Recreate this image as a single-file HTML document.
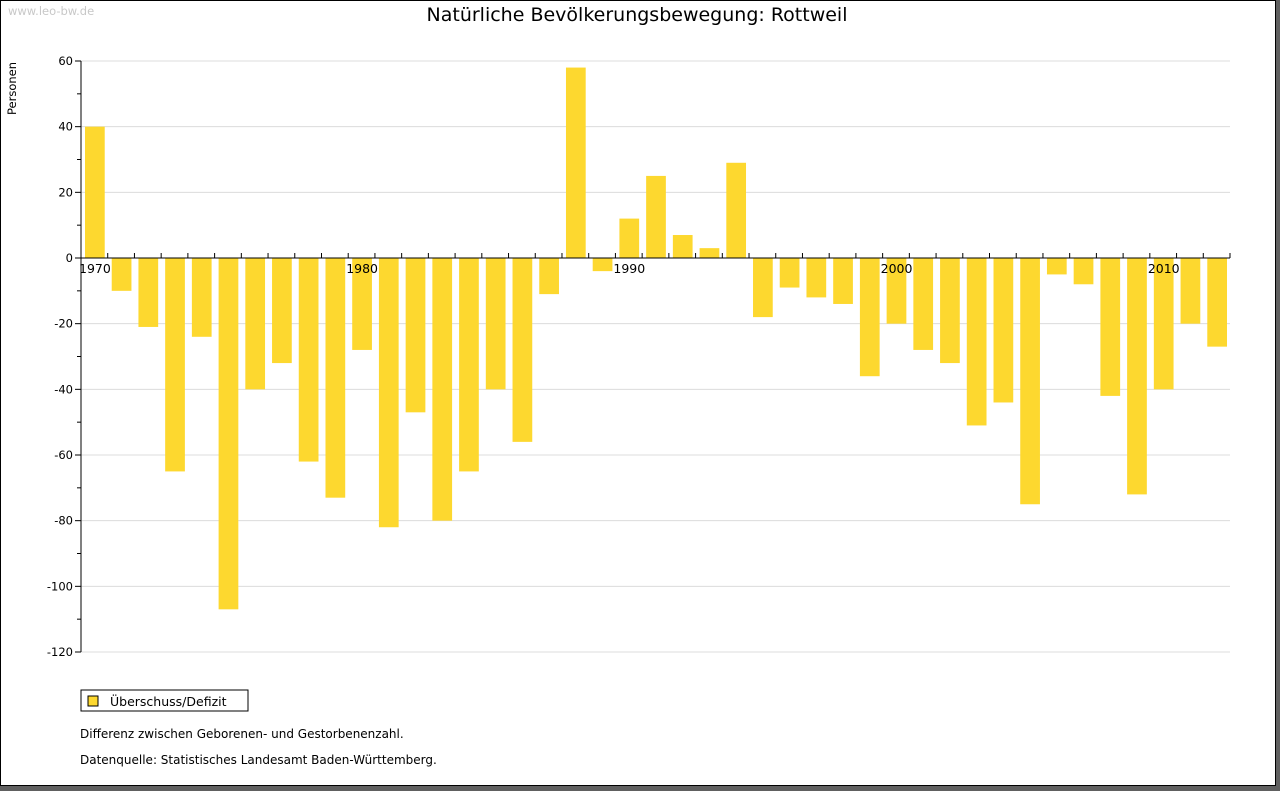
<!DOCTYPE html>
<html><head><meta charset="utf-8"><style>
body{margin:0;width:1280px;height:791px;background:#606060;overflow:hidden;font-family:"DejaVu Sans",sans-serif}
#frame{position:absolute;left:0;top:0;width:1274px;height:784px;background:#fff;border:1px solid #000}
</style></head><body>
<div id="frame"></div>
<svg id="chart" width="1280" height="791" style="position:absolute;left:0;top:0" font-family="DejaVu Sans, sans-serif">
<text x="8" y="15" font-size="11.5" fill="#c8c8c8">www.leo-bw.de</text>
<text x="637" y="21" font-size="19" text-anchor="middle" fill="#000">Natürliche Bevölkerungsbewegung: Rottweil</text>
<text transform="translate(16,115) rotate(-90)" font-size="11.5" fill="#000">Personen</text>
<g id="grid"></g><g id="bars"></g><g id="axes"></g>
<rect x="81" y="690" width="167" height="21" fill="#fff" stroke="#000"/>
<rect x="88" y="696" width="10" height="10" fill="#fdd82f" stroke="#000"/>
<text x="110" y="706" font-size="12.5">Überschuss/Defizit</text>
<text x="80" y="738" font-size="12">Differenz zwischen Geborenen- und Gestorbenenzahl.</text>
<text x="80" y="764" font-size="12">Datenquelle: Statistisches Landesamt Baden-Württemberg.</text>
</svg>
<script>
const years=[1970,1971,1972,1973,1974,1975,1976,1977,1978,1979,1980,1981,1982,1983,1984,1985,1986,1987,1988,1989,1990,1991,1992,1993,1994,1995,1996,1997,1998,1999,2000,2001,2002,2003,2004,2005,2006,2007,2008,2009,2010,2011,2012];
const values=[40,-10,-21,-65,-24,-107,-40,-32,-62,-73,-28,-82,-47,-80,-65,-40,-56,-11,58,-4,12,25,7,3,29,-18,-9,-12,-14,-36,-20,-28,-32,-51,-44,-75,-5,-8,-42,-72,-40,-20,-27];
const yTicks=[60,40,20,0,-20,-40,-60,-80,-100,-120];
const xLabels=[1970,1980,1990,2000,2010];
const NS="http://www.w3.org/2000/svg";
const L=81,R=1230,yMax=60,yMin=-120,T=61,B=652;
const slot=(R-L)/years.length;
const y=v=>T+(yMax-v)*(B-T)/(yMax-yMin);
const x=i=>L+i*slot;
function mk(tag,attrs,parent){const e=document.createElementNS(NS,tag);for(const k in attrs)e.setAttribute(k,attrs[k]);document.getElementById(parent).appendChild(e);return e;}
yTicks.forEach(t=>{
 if(t!==0){const g=mk('line',{x1:L,x2:R,y1:y(t),y2:y(t),stroke:'#dcdcdc'},'grid');
 
 }
 const lb=mk('text',{x:73,y:y(t)+4,'font-size':11.5,'text-anchor':'end'},'axes');lb.textContent=t;
 
 
 mk('line',{x1:L-6,x2:L,y1:y(t),y2:y(t),stroke:'#000'},'axes');
});
for(let v=yMax-10;v>yMin;v-=20){mk('line',{x1:L-4,x2:L,y1:y(v),y2:y(v),stroke:'#000'},'axes');}
values.forEach((v,i)=>{
 const top=Math.min(y(v),y(0)),h=Math.abs(y(v)-y(0));
 const r=mk('rect',{x:x(i)+4,y:top,width:slot-7,height:h,fill:'#fdd82f'},'bars');
 
 
});
mk('line',{x1:L,x2:L,y1:T,y2:B,stroke:'#000'},'axes');
mk('line',{x1:L,x2:R,y1:y(0),y2:y(0),stroke:'#000'},'axes');
for(let i=0;i<=years.length;i++){mk('line',{x1:x(i),x2:x(i),y1:y(0)-5,y2:y(0),stroke:'#000'},'axes');}
xLabels.forEach(yr=>{const i=years.indexOf(yr);const t=mk('text',{x:x(i)-2,y:y(0)+15,'font-size':12.5},'axes');t.textContent=yr;
 
 });
</script>
</body></html>
